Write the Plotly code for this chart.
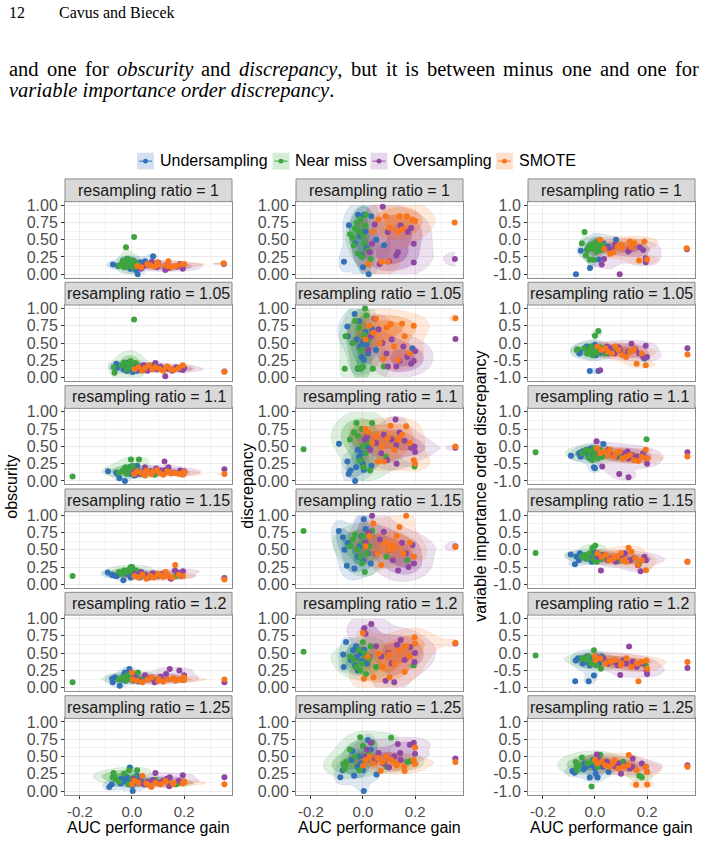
import numpy as np
import plotly.graph_objects as go

# ---------------- data ----------------
methods = ["Undersampling", "Near miss", "Oversampling", "SMOTE"]
method_keys = ["und", "nm", "ovs", "smo"]
ratios = ["1", "1.05", "1.1", "1.15", "1.2", "1.25"]
ratio_keys = ["r100", "r105", "r110", "r115", "r120", "r125"]
metric_keys = ["obsc", "disc", "viod"]
metric_titles = ["obscurity", "discrepancy", "variable importance order discrepancy"]

x_tickvals = [-0.2, 0.0, 0.2]
x_ticktext = ["-0.2", "0.0", "0.2"]
y01_tickvals = [0.0, 0.25, 0.5, 0.75, 1.0]
y01_ticktext = ["0.00", "0.25", "0.50", "0.75", "1.00"]
ypm_tickvals = [-1.0, -0.5, 0.0, 0.5, 1.0]
ypm_ticktext = ["-1.0", "-0.5", "0.0", "0.5", "1.0"]

# ratio = 1
gain_r100_und = [-0.073, -0.054, -0.03, -0.019, -0.01, -0.006, 0.0, 0.004, 0.01, 0.015, 0.022, 0.032, 0.05, 0.081]
obsc_r100_und = [0.14, 0.12, 0.18, 0.22, 0.15, 0.08, 0.1, 0.2, 0.13, 0.06, 0.0, 0.17, 0.19, 0.26]
disc_r100_und = [0.18, 0.71, 0.45, 0.86, 0.55, 0.27, 0.1, 0.86, 0.62, 0.38, 0.0, 0.84, 0.5, 0.42]
viod_r100_und = [-1.0, -0.32, -0.3, -0.82, -0.2, -0.25, -0.1, -0.15, -0.05, -0.57, -0.3, -0.12, -0.2, 0.0]
gain_r100_nm = [-0.05, -0.04, -0.035, -0.03, -0.023, -0.02, -0.015, -0.01, -0.005, 0.0, 0.005, 0.008, 0.012, 0.02, 0.03]
obsc_r100_nm = [0.12, 0.15, 0.2, 0.1, 0.39, 0.18, 0.22, 0.12, 0.15, 0.2, 0.1, 0.54, 0.17, 0.14, 0.12]
disc_r100_nm = [0.58, 0.52, 0.42, 0.66, 0.75, 0.3, 0.62, 0.8, 0.25, 0.55, 0.45, 0.7, 0.86, 0.35, 0.22]
viod_r100_nm = [-0.1, 0.22, -0.46, -0.3, -0.2, -0.58, -0.15, -0.25, -0.58, -0.1, -0.35, -0.2, -0.05, -0.3, -0.15]
gain_r100_ovs = [0.026, 0.035, 0.045, 0.064, 0.076, 0.095, 0.1, 0.128, 0.134, 0.144, 0.172, 0.185, 0.195, 0.195, 0.353]
obsc_r100_ovs = [0.1, 0.08, 0.12, 0.14, 0.18, 0.1, 0.17, 0.06, 0.13, 0.09, 0.11, 0.15, 0.08, 0.12, 0.15]
disc_r100_ovs = [0.32, 0.44, 0.72, 0.15, 0.975, 0.61, 0.19, 0.27, 0.32, 0.71, 0.61, 0.67, 0.44, 0.17, 0.22]
viod_r100_ovs = [-0.72, -0.56, -0.25, -0.3, -0.15, -1.0, -0.2, -0.34, -0.28, -0.2, -0.22, -0.3, -0.54, -0.65, -0.28]
gain_r100_smo = [0.02, 0.036, 0.059, 0.07, 0.087, 0.096, 0.102, 0.134, 0.14, 0.152, 0.169, 0.19, 0.2, 0.352]
obsc_r100_smo = [0.12, 0.1, 0.15, 0.13, 0.11, 0.17, 0.14, 0.12, 0.19, 0.1, 0.12, 0.14, 0.15, 0.16]
disc_r100_smo = [0.15, 0.62, 0.79, 0.18, 0.84, 0.18, 0.67, 0.61, 0.84, 0.65, 0.84, 0.79, 0.77, 0.75]
viod_r100_smo = [0.0, -0.27, -0.41, -0.36, -0.19, -0.15, -0.22, -0.05, -0.22, -0.1, -0.6, -0.05, -0.57, -0.25]

# ratio = 1.05
gain_r105_und = [-0.06, -0.058, -0.032, -0.025, -0.02, -0.015, -0.01, -0.005, 0.0, 0.003, 0.01, 0.013, 0.02, 0.035, 0.05, 0.19]
obsc_r105_und = [0.2, 0.14, 0.12, 0.18, 0.1, 0.22, 0.15, 0.17, 0.2, 0.08, 0.13, 0.19, 0.1, 0.16, 0.12, 0.15]
disc_r105_und = [0.74, 0.6, 0.92, 0.55, 0.13, 0.82, 0.45, 0.3, 0.52, 0.26, 0.66, 0.48, 0.35, 0.7, 0.4, 0.42]
viod_r105_und = [-0.3, -0.25, -0.1, -0.2, -0.81, -0.15, -0.3, -0.22, -0.05, -0.35, -0.12, -0.81, -0.28, -0.18, -0.3, -0.45]
gain_r105_nm = [-0.07, -0.067, -0.04, -0.03, -0.02, -0.015, -0.01, -0.005, 0.0, 0.005, 0.008, 0.013, 0.02, 0.038, 0.08]
obsc_r105_nm = [0.15, 0.07, 0.18, 0.22, 0.12, 0.2, 0.16, 0.24, 0.19, 0.14, 0.84, 0.21, 0.17, 0.13, 0.18]
disc_r105_nm = [0.13, 0.6, 0.5, 0.82, 0.14, 0.72, 0.13, 0.4, 0.15, 0.62, 1.0, 0.9, 0.55, 0.13, 0.16]
viod_r105_nm = [-0.2, -0.18, -0.15, -0.3, -0.22, -0.1, -0.35, -0.25, 0.21, -0.18, -0.28, 0.35, -0.12, -0.3, -0.2]
gain_r105_ovs = [0.02, 0.03, 0.045, 0.06, 0.075, 0.09, 0.096, 0.11, 0.128, 0.14, 0.155, 0.17, 0.185, 0.195, 0.2, 0.355]
obsc_r105_ovs = [0.15, 0.12, 0.18, 0.1, 0.14, 0.21, 0.12, 0.16, 0.02, 0.13, 0.1, 0.15, 0.12, 0.11, 0.14, 0.09]
disc_r105_ovs = [0.4, 0.6, 0.85, 0.7, 0.5, 0.35, 0.16, 0.55, 0.16, 0.24, 0.45, 0.3, 0.2, 0.24, 0.38, 0.56]
viod_r105_ovs = [-0.79, -0.2, -0.1, -0.15, -0.3, -0.12, -0.2, -0.35, -0.25, -0.02, -0.18, -0.3, -0.4, -0.08, -0.4, -0.15]
gain_r105_smo = [0.01, 0.025, 0.04, 0.05, 0.065, 0.078, 0.09, 0.106, 0.12, 0.135, 0.15, 0.16, 0.18, 0.195, 0.355]
obsc_r105_smo = [0.12, 0.15, 0.1, 0.14, 0.18, 0.12, 0.15, 0.13, 0.1, 0.16, 0.12, 0.11, 0.14, 0.18, 0.085]
disc_r105_smo = [0.55, 0.75, 0.65, 0.85, 0.5, 0.27, 0.72, 0.77, 0.45, 0.25, 0.78, 0.6, 0.35, 0.75, 0.86]
viod_r105_smo = [-0.1, -0.2, -0.15, -0.25, -0.3, -0.1, -0.2, -0.35, -0.4, -0.25, -0.18, -0.6, -0.3, -0.64, -0.33]

# ratio = 1.1
gain_r110_und = [-0.092, -0.06, -0.055, -0.048, -0.03, -0.027, -0.02, -0.015, -0.01, -0.004, 0.0, 0.003, 0.01, 0.02, 0.032]
obsc_r110_und = [0.14, 0.12, 0.1, 0.04, 0.15, 0.0, 0.18, 0.12, 0.2, 0.1, 0.16, 0.14, 0.08, 0.22, 0.13]
disc_r110_und = [0.54, 0.28, 0.1, 0.15, 0.0, 0.2, 0.45, 0.35, 0.3, 0.4, 0.25, 0.16, 0.6, 0.5, 0.22]
viod_r110_und = [-0.27, -0.2, -0.3, -0.15, -0.1, -0.25, -0.35, -0.05, -0.2, -0.6, -0.63, -0.15, -0.3, -0.1, 0.07]
gain_r110_nm = [-0.228, -0.05, -0.035, -0.025, -0.02, -0.01, -0.004, 0.0, 0.003, 0.01, 0.02, 0.027, 0.035, 0.088, 0.198]
obsc_r110_nm = [0.065, 0.12, 0.15, 0.2, 0.1, 0.18, 0.31, 0.14, 0.22, 0.12, 0.16, 0.31, 0.1, 0.09, 0.13]
disc_r110_nm = [0.46, 0.6, 0.7, 0.84, 0.65, 0.3, 0.75, 0.5, 0.2, 0.4, 0.55, 0.15, 0.84, 0.35, 0.21]
viod_r110_nm = [-0.17, -0.2, -0.1, -0.3, -0.15, -0.4, -0.05, -0.25, -0.2, -0.35, -0.1, -0.3, -0.2, -0.3, 0.21]
gain_r110_ovs = [0.006, 0.017, 0.028, 0.05, 0.07, 0.08, 0.093, 0.11, 0.125, 0.128, 0.129, 0.14, 0.16, 0.185, 0.198, 0.2, 0.355]
obsc_r110_ovs = [0.12, 0.15, 0.1, 0.2, 0.14, 0.12, 0.18, 0.15, 0.28, 0.13, 0.16, 0.2, 0.12, 0.15, 0.1, 0.14, 0.17]
disc_r110_ovs = [0.6, 0.65, 0.45, 0.55, 0.4, 0.67, 0.3, 0.6, 0.89, 0.52, 0.25, 0.7, 0.58, 0.48, 0.5, 0.42, 0.48]
viod_r110_ovs = [0.15, -0.2, -0.58, -0.1, -0.25, -0.3, -0.8, -0.2, -0.15, -0.35, -0.89, -0.25, -0.3, -0.2, -0.34, -0.5, -0.17]
gain_r110_smo = [0.008, 0.02, 0.035, 0.05, 0.057, 0.074, 0.08, 0.095, 0.106, 0.12, 0.135, 0.15, 0.166, 0.18, 0.195, 0.2, 0.355]
obsc_r110_smo = [0.1, 0.14, 0.12, 0.08, 0.15, 0.1, 0.13, 0.16, 0.12, 0.09, 0.14, 0.11, 0.12, 0.1, 0.09, 0.13, 0.1]
disc_r110_smo = [0.75, 0.7, 0.55, 0.65, 0.28, 0.5, 0.28, 0.62, 0.8, 0.45, 0.6, 0.67, 0.79, 0.55, 0.3, 0.25, 0.5]
viod_r110_smo = [-0.05, -0.2, -0.15, -0.25, -0.1, -0.3, -0.2, -0.15, -0.35, -0.3, -0.25, -0.4, -0.42, -0.3, -0.1, -0.35, -0.29]

# ratio = 1.15
gain_r115_und = [-0.093, -0.077, -0.071, -0.062, -0.058, -0.033, -0.02, -0.012, -0.005, 0.0, 0.003, 0.01, 0.02, 0.03]
obsc_r115_und = [0.17, 0.14, 0.13, 0.12, 0.12, 0.06, 0.15, 0.18, 0.1, 0.2, 0.14, 0.12, 0.17, 0.1]
disc_r115_und = [0.77, 0.68, 0.5, 0.27, 0.6, 0.23, 0.4, 0.55, 0.7, 0.35, 0.94, 0.8, 0.45, 0.3]
viod_r115_und = [-0.14, -0.42, -0.2, -0.3, -0.1, -0.25, -0.15, -0.35, -0.05, -0.2, -0.3, -0.1, -0.25, -0.15]
gain_r115_nm = [-0.228, -0.05, -0.04, -0.03, -0.02, -0.01, -0.004, 0.0, 0.001, 0.007, 0.015, 0.025, 0.035, 0.09, 0.17]
obsc_r115_nm = [0.12, 0.18, 0.15, 0.2, 0.17, 0.22, 0.25, 0.19, 0.25, 0.14, 0.2, 0.16, 0.13, 0.15, 0.12]
disc_r115_nm = [0.77, 0.55, 0.65, 0.72, 0.5, 0.4, 0.3, 0.6, 0.7, 0.18, 0.45, 0.55, 0.77, 0.4, 0.35]
viod_r115_nm = [-0.09, -0.2, -0.15, -0.25, -0.1, 0.05, -0.3, -0.2, 0.12, -0.35, -0.15, -0.25, -0.2, -0.33, -0.4]
gain_r115_ovs = [0.01, 0.023, 0.035, 0.05, 0.065, 0.08, 0.1, 0.115, 0.135, 0.15, 0.165, 0.175, 0.19, 0.196, 0.355]
obsc_r115_ovs = [0.15, 0.12, 0.18, 0.14, 0.1, 0.16, 0.12, 0.15, 0.13, 0.08, 0.2, 0.17, 0.12, 0.19, 0.09]
disc_r115_ovs = [0.6, 0.75, 0.99, 0.45, 0.65, 0.76, 0.5, 0.35, 0.2, 0.6, 0.45, 0.25, 0.57, 0.3, 0.55]
viod_r115_ovs = [-0.2, -0.6, -0.15, -0.3, -0.25, -0.35, -0.2, -0.1, -0.3, -0.25, -0.45, -0.62, -0.2, -0.3, -0.35]
gain_r115_smo = [0.01, 0.025, 0.04, 0.055, 0.07, 0.085, 0.1, 0.107, 0.12, 0.129, 0.14, 0.155, 0.166, 0.18, 0.196, 0.355]
obsc_r115_smo = [0.12, 0.1, 0.14, 0.08, 0.12, 0.1, 0.15, 0.13, 0.11, 0.18, 0.12, 0.1, 0.28, 0.14, 0.12, 0.07]
disc_r115_smo = [0.55, 0.7, 0.88, 0.45, 0.28, 0.6, 0.5, 0.57, 0.54, 0.7, 0.83, 0.45, 0.99, 0.6, 0.4, 0.54]
viod_r115_smo = [-0.1, -0.2, -0.15, -0.3, -0.25, -0.2, -0.1, -0.3, -0.35, 0.06, -0.06, -0.25, -0.43, -0.3, -0.59, -0.35]

# ratio = 1.2
gain_r120_und = [-0.076, -0.074, -0.065, -0.047, -0.038, -0.03, -0.027, -0.024, -0.02, -0.01, -0.004, 0.005, 0.015, 0.025]
obsc_r120_und = [0.13, 0.08, 0.15, 0.03, 0.12, 0.18, 0.22, 0.1, 0.15, 0.27, 0.2, 0.12, 0.17, 0.09]
disc_r120_und = [0.48, 0.3, 0.66, 0.4, 0.54, 0.32, 0.6, 0.44, 0.25, 0.5, 0.38, 0.55, 0.35, 0.45]
viod_r120_und = [-0.81, -0.21, -0.15, -0.3, -0.2, -0.1, -0.25, -0.81, -0.35, -0.15, -0.65, -0.2, -0.3, -0.1]
gain_r120_nm = [-0.228, -0.05, -0.035, -0.026, -0.015, -0.01, -0.004, 0.0, 0.005, 0.012, 0.023, 0.03, 0.05, 0.195]
obsc_r120_nm = [0.08, 0.12, 0.15, 0.1, 0.18, 0.13, 0.15, 0.2, 0.1, 0.16, 0.22, 0.12, 0.14, 0.11]
disc_r120_nm = [0.52, 0.45, 0.4, 0.3, 0.55, 0.25, 0.35, 0.66, 0.5, 0.2, 0.42, 0.6, 0.3, 0.32]
viod_r120_nm = [-0.07, -0.15, -0.2, -0.1, -0.3, -0.25, 0.08, -0.2, -0.35, -0.15, -0.45, -0.2, -0.3, -0.36]
gain_r120_ovs = [0.005, 0.01, 0.032, 0.05, 0.07, 0.087, 0.097, 0.11, 0.12, 0.131, 0.145, 0.16, 0.182, 0.198, 0.2, 0.355]
obsc_r120_ovs = [0.12, 0.15, 0.1, 0.18, 0.14, 0.08, 0.12, 0.16, 0.1, 0.2, 0.27, 0.13, 0.25, 0.12, 0.18, 0.08]
disc_r120_ovs = [0.86, 0.78, 0.92, 0.6, 0.45, 0.1, 0.5, 0.35, 0.08, 0.62, 0.69, 0.4, 0.59, 0.37, 0.5, 0.64]
viod_r120_ovs = [-0.1, -0.2, -0.15, -0.3, -0.25, -0.35, -0.63, -0.2, -0.3, 0.19, -0.25, -0.4, -0.3, -0.5, -0.6, -0.43]
gain_r120_smo = [0.0, 0.003, 0.02, 0.04, 0.06, 0.075, 0.1, 0.102, 0.12, 0.14, 0.16, 0.167, 0.18, 0.198, 0.2, 0.355]
obsc_r120_smo = [0.22, 0.12, 0.1, 0.08, 0.12, 0.15, 0.1, 0.13, 0.09, 0.12, 0.14, 0.1, 0.12, 0.15, 0.11, 0.12]
disc_r120_smo = [0.79, 0.13, 0.45, 0.15, 0.49, 0.3, 0.48, 0.15, 0.35, 0.54, 0.23, 0.6, 0.45, 0.73, 0.64, 0.65]
viod_r120_smo = [-0.1, -0.2, -0.15, -0.3, -0.25, -0.2, -0.35, -0.3, -0.15, -0.4, -0.3, -0.81, -0.25, -0.21, -0.45, -0.26]

# ratio = 1.25
gain_r125_und = [-0.087, -0.078, -0.044, -0.041, -0.034, -0.02, -0.015, -0.008, 0.0, 0.003, 0.01, 0.019, 0.03, 0.052]
obsc_r125_und = [0.06, 0.1, 0.11, 0.18, 0.14, 0.2, 0.12, 0.34, 0.08, 0.0, 0.15, 0.22, 0.12, 0.1]
disc_r125_und = [0.2, 0.3, 0.45, 0.58, 0.22, 0.35, 0.5, 0.4, 0.3, 0.0, 0.45, 0.74, 0.6, 0.24]
viod_r125_und = [-0.42, -0.47, -0.37, -0.2, -0.3, -0.61, -0.25, -0.1, -0.35, -0.5, -0.61, -0.15, -0.3, -0.45]
gain_r125_nm = [-0.074, -0.071, -0.069, -0.064, -0.05, -0.03, -0.013, -0.011, 0.0, 0.01, 0.02, 0.035, 0.09, 0.108, 0.17, 0.18]
obsc_r125_nm = [0.2, 0.26, 0.22, 0.18, 0.14, 0.25, 0.1, 0.3, 0.18, 0.2, 0.3, 0.15, 0.16, 0.12, 0.1, 0.12]
disc_r125_nm = [0.39, 0.32, 0.36, 0.42, 0.6, 0.5, 0.3, 0.78, 0.65, 0.45, 0.55, 0.7, 0.35, 0.77, 0.42, 0.43]
viod_r125_nm = [-0.16, -0.3, -0.4, -0.25, -0.03, -0.2, -0.87, -0.15, -0.1, -0.3, 0.05, -0.2, -0.25, -0.15, -0.56, -0.6]
gain_r125_ovs = [0.007, 0.015, 0.03, 0.045, 0.06, 0.08, 0.09, 0.1, 0.12, 0.134, 0.143, 0.145, 0.18, 0.195, 0.2, 0.355]
obsc_r125_ovs = [0.18, 0.12, 0.15, 0.1, 0.13, 0.16, 0.26, 0.12, 0.15, 0.18, 0.07, 0.2, 0.15, 0.23, 0.14, 0.2]
disc_r125_ovs = [0.5, 0.6, 0.7, 0.45, 0.55, 0.4, 0.5, 0.34, 0.5, 0.68, 0.55, 0.45, 0.67, 0.7, 0.54, 0.47]
viod_r125_ovs = [0.06, -0.1, -0.2, -0.15, -0.25, -0.3, -0.2, -0.5, -0.25, -0.35, -0.3, -0.06, -0.2, -0.3, -0.45, -0.25]
gain_r125_smo = [0.0, 0.01, 0.025, 0.04, 0.055, 0.068, 0.075, 0.09, 0.11, 0.128, 0.13, 0.158, 0.16, 0.195, 0.2, 0.2, 0.355]
obsc_r125_smo = [0.1, 0.15, 0.12, 0.22, 0.11, 0.08, 0.06, 0.12, 0.1, 0.15, 0.13, 0.1, 0.12, 0.11, 0.14, 0.12, 0.1]
disc_r125_smo = [0.37, 0.45, 0.5, 0.4, 0.48, 0.29, 0.42, 0.5, 0.45, 0.4, 0.37, 0.35, 0.29, 0.45, 0.39, 0.63, 0.42]
viod_r125_smo = [-0.1, -0.2, -0.15, -0.25, -0.3, -0.2, -0.11, -0.35, -0.3, -0.25, 0.04, -0.82, -0.4, -0.3, -0.81, -0.45, -0.3]

# ---------------- style ----------------
rgb = {"und": (50, 113, 182), "nm": (61, 164, 63), "ovs": (144, 71, 161), "smo": (247, 118, 27)}
ALPHA = 0.16
LEVEL_FRACS = [0.2, 0.5, 0.8]
BW_SCALE = 1.0
W, H = 704, 844
col_left = [65, 296, 528]
col_right = [232, 463, 695]
strip_top0, row_step, strip_h, panel_h = 176.0, 104.6, 23.0, 77.0
AX_FONT = "Liberation Sans, Arial, sans-serif"
SERIF = "Liberation Serif, Times New Roman, serif"


def px(x):
    return x / W


def py(y):
    return 1 - y / H


def rgba(c, a):
    return "rgba(%d,%d,%d,%.3f)" % (c[0], c[1], c[2], a)


def bw(v):
    v = np.asarray(v, dtype=float)
    return BW_SCALE * 1.06 * v.std(ddof=1) * len(v) ** (-0.2)


def kde2d(x, y, gx, gy):
    x = np.asarray(x, float)
    y = np.asarray(y, float)
    hx, hy = bw(x), bw(y)
    ax = (gx[:, None] - x[None, :]) / hx
    ay = (gy[:, None] - y[None, :]) / hy
    dx = np.exp(-0.5 * ax ** 2) / np.sqrt(2 * np.pi)
    dy = np.exp(-0.5 * ay ** 2) / np.sqrt(2 * np.pi)
    z = dx @ dy.T / (len(x) * hx * hy)
    return z.T


G = globals()
all_gain = np.concatenate([G["gain_%s_%s" % (rk, mk)] for rk in ratio_keys for mk in method_keys])
xlo, xhi = float(all_gain.min()), float(all_gain.max())
xpad = 0.05 * (xhi - xlo)
x_range = [xlo - xpad, xhi + xpad]

fig = go.Figure()
layout = dict(
    width=W, height=H, margin=dict(l=0, r=0, t=0, b=0),
    paper_bgcolor="white", plot_bgcolor="white", showlegend=False,
)
shapes, annotations = [], []

for c, mkey in enumerate(metric_keys):
    if mkey == "viod":
        ylim = (-1.0, 1.0)
        ytv, ytt = ypm_tickvals, ypm_ticktext
        yminor = [-0.75, -0.25, 0.25, 0.75]
    else:
        ylim = (0.0, 1.0)
        ytv, ytt = y01_tickvals, y01_ticktext
        yminor = [0.125, 0.375, 0.625, 0.875]
    ypad = 0.05 * (ylim[1] - ylim[0])
    gx = np.linspace(xlo, xhi, 120)
    gy = np.linspace(ylim[0], ylim[1], 120)

    for r, rk in enumerate(ratio_keys):
        p = r * 3 + c + 1
        xa = "x" if p == 1 else "x%d" % p
        ya = "y" if p == 1 else "y%d" % p
        top = strip_top0 + row_step * r
        ptop, pbot = top + strip_h, top + strip_h + panel_h
        bottom_row = (r == len(ratio_keys) - 1)
        layout["xaxis" if p == 1 else "xaxis%d" % p] = dict(
            domain=[px(col_left[c]), px(col_right[c])], anchor=ya, range=x_range,
            tickmode="array", tickvals=x_tickvals, ticktext=x_ticktext,
            showticklabels=bottom_row, ticks="outside" if bottom_row else "",
            ticklen=3, tickcolor="#333333", tickwidth=1,
            tickfont=dict(family=AX_FONT, size=15, color="#4D4D4D"),
            showgrid=True, gridcolor="#EBEBEB", gridwidth=1,
            minor=dict(tickmode="array", tickvals=[-0.1, 0.1, 0.3], showgrid=True,
                       gridcolor="#F2F2F2", gridwidth=0.6, ticks=""),
            zeroline=False, showline=True, mirror=True, linecolor="#8C8C8C", linewidth=1,
            fixedrange=True,
        )
        layout["yaxis" if p == 1 else "yaxis%d" % p] = dict(
            domain=[py(pbot), py(ptop)], anchor=xa, range=[ylim[0] - ypad, ylim[1] + ypad],
            tickmode="array", tickvals=ytv, ticktext=ytt,
            ticks="outside", ticklen=3, tickcolor="#333333", tickwidth=1,
            tickfont=dict(family=AX_FONT, size=16, color="#4D4D4D"),
            showgrid=True, gridcolor="#EBEBEB", gridwidth=1,
            minor=dict(tickmode="array", tickvals=yminor, showgrid=True,
                       gridcolor="#F2F2F2", gridwidth=0.6, ticks=""),
            zeroline=False, showline=True, mirror=True, linecolor="#8C8C8C", linewidth=1,
            fixedrange=True,
        )
        # strip
        shapes.append(dict(type="rect", xref="paper", yref="paper",
                           x0=px(col_left[c]), x1=px(col_right[c]), y0=py(ptop), y1=py(top),
                           fillcolor="#D9D9D9", line=dict(color="#8C8C8C", width=1)))
        annotations.append(dict(xref="paper", yref="paper", x=px((col_left[c] + col_right[c]) / 2),
                                y=py(top + strip_h / 2), text="resampling ratio = %s" % ratios[r],
                                showarrow=False, xanchor="center", yanchor="middle",
                                font=dict(family=AX_FONT, size=16, color="#1A1A1A")))
        # density polygons
        for mk in method_keys:
            z = kde2d(G["gain_%s_%s" % (rk, mk)], G["%s_%s_%s" % (mkey, rk, mk)], gx, gy)
            zm = float(z.max())
            lv = [f * zm for f in LEVEL_FRACS]
            nlev = len(lv)
            cs = []
            for k in range(nlev + 1):
                a = 0.0 if k == 0 else 1 - (1 - ALPHA) ** k
                cs.append([k / nlev, rgba(rgb[mk], a)])
            # remap z so that the chosen levels become 1,2,3
            zz = np.interp(z, [0.0] + lv + [zm * 1.0001], list(range(nlev + 1)) + [nlev + 0.0001])
            fig.add_trace(go.Contour(
                x=gx, y=gy, z=zz, xaxis=xa, yaxis=ya,
                contours=dict(start=1, end=nlev, size=1, coloring="fill", showlines=True),
                line=dict(width=0.4, color=rgba(rgb[mk], 0.3), smoothing=1),
                colorscale=cs, showscale=False, hoverinfo="skip",
            ))
        # points
        for mk in method_keys:
            fig.add_trace(go.Scatter(
                x=G["gain_%s_%s" % (rk, mk)], y=G["%s_%s_%s" % (mkey, rk, mk)],
                xaxis=xa, yaxis=ya, mode="markers",
                marker=dict(size=6, color=rgba(rgb[mk], 1), line=dict(width=0)),
                hoverinfo="skip",
            ))
    # axis titles
    annotations.append(dict(xref="paper", yref="paper", x=px((col_left[c] + col_right[c]) / 2), y=py(832),
                            text="AUC performance gain", showarrow=False, xanchor="center", yanchor="middle",
                            font=dict(family=AX_FONT, size=16, color="black")))
    ytitle_x = [12, 248, 481][c]
    annotations.append(dict(xref="paper", yref="paper", x=px(ytitle_x), y=py(487.5),
                            text=metric_titles[c], showarrow=False, textangle=-90,
                            xanchor="center", yanchor="middle",
                            font=dict(family=AX_FONT, size=16, color="black")))

# legend (manual)
leg_keys_x = [137, 272.5, 370.5, 496]
leg_text_x = [158, 292.5, 391, 516.5]
LEG_Y = 158
for i, mk in enumerate(method_keys):
    x0 = leg_keys_x[i]
    shapes.append(dict(type="rect", xref="paper", yref="paper", x0=px(x0), x1=px(x0 + 17),
                       y0=py(LEG_Y + 8.5), y1=py(LEG_Y - 8.5), fillcolor=rgba(rgb[mk], 0.22), line=dict(width=0)))
    shapes.append(dict(type="line", xref="paper", yref="paper", x0=px(x0 + 2), x1=px(x0 + 15),
                       y0=py(LEG_Y), y1=py(LEG_Y), line=dict(color=rgba(rgb[mk], 1), width=1)))
    shapes.append(dict(type="circle", xref="paper", yref="paper", x0=px(x0 + 6), x1=px(x0 + 11),
                       y0=py(LEG_Y + 2.5), y1=py(LEG_Y - 2.5), fillcolor=rgba(rgb[mk], 1), line=dict(width=0)))
    annotations.append(dict(xref="paper", yref="paper", x=px(leg_text_x[i]), y=py(LEG_Y - 1),
                            text=methods[i], showarrow=False, xanchor="left", yanchor="middle",
                            font=dict(family=AX_FONT, size=16, color="black")))

# ---------------- page text (justified first line) ----------------
ROMAN_W = {"a": 444, "b": 500, "c": 444, "d": 500, "e": 444, "f": 333, "i": 278, "m": 778, "n": 500,
           "o": 500, "r": 333, "s": 389, "t": 278, "u": 500, "w": 722, "y": 500, "p": 500, ",": 250, ".": 250}
ITAL_W = {"a": 500, "b": 500, "c": 444, "d": 500, "e": 444, "i": 278, "l": 278, "m": 722, "n": 500,
          "o": 500, "p": 500, "r": 389, "s": 389, "t": 278, "u": 500, "v": 444, "y": 444, ",": 250}
BODY_FS = 20.5
line1_words = [[("and", 0)], [("one", 0)], [("for", 0)], [("obscurity", 1)], [("and", 0)],
               [("discrepancy", 1), (",", 0)], [("but", 0)], [("it", 0)], [("is", 0)], [("between", 0)],
               [("minus", 0)], [("one", 0)], [("and", 0)], [("one", 0)], [("for", 0)]]


def word_width(segs):
    w = 0
    for txt, it in segs:
        tbl = ITAL_W if it else ROMAN_W
        w += sum(tbl[ch] for ch in txt)
    return w / 1000.0 * BODY_FS


def word_html(segs):
    return "".join(("<i>%s</i>" % t) if it else t for t, it in segs)


L1_X0, L1_X1 = 7.0, 697.0
widths = [word_width(s) for s in line1_words]
gap = (L1_X1 - L1_X0 - sum(widths)) / (len(line1_words) - 1)
xcur = L1_X0
for segs, wdt in zip(line1_words, widths):
    annotations.append(dict(xref="paper", yref="paper", x=px(xcur), y=py(65), text=word_html(segs),
                            showarrow=False, xanchor="left", yanchor="middle",
                            font=dict(family=SERIF, size=BODY_FS, color="black")))
    xcur += wdt + gap
annotations.append(dict(xref="paper", yref="paper", x=px(7), y=py(87),
                        text="<i>variable importance order discrepancy</i>.",
                        showarrow=False, xanchor="left", yanchor="middle",
                        font=dict(family=SERIF, size=BODY_FS, color="black")))
annotations.append(dict(xref="paper", yref="paper", x=px(7), y=py(8), text="12", showarrow=False,
                        xanchor="left", yanchor="middle", font=dict(family=SERIF, size=16, color="black")))
annotations.append(dict(xref="paper", yref="paper", x=px(57), y=py(8), text="Cavus and Biecek",
                        showarrow=False, xanchor="left", yanchor="middle",
                        font=dict(family=SERIF, size=16, color="black")))

layout["shapes"] = shapes
layout["annotations"] = annotations
fig.update_layout(**layout)
fig.write_html("out.html")
